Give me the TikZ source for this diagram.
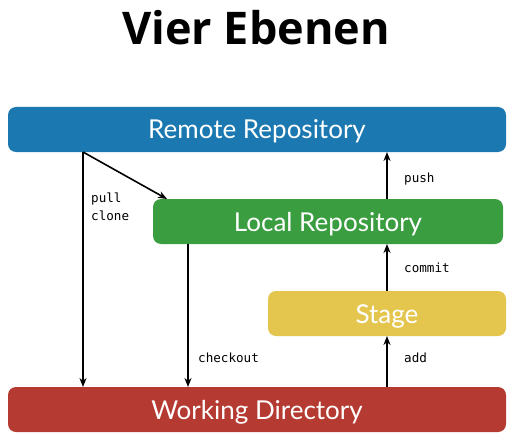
\documentclass[tikz,border=0pt]{standalone}
\usepackage{fontspec}
\setmainfont{Lato}
\newfontfamily\titlefont{Open Sans}
\newfontfamily\monofont{DejaVu Sans Mono}
\usetikzlibrary{arrows.meta}
\definecolor{remoteblue}{RGB}{27,120,176}
\definecolor{localgreen}{RGB}{58,157,64}
\definecolor{stageyellow}{RGB}{228,198,78}
\definecolor{workred}{RGB}{181,58,49}
\tikzset{
  levelbox/.style={draw=none, text=white, font=\fontsize{26}{26}\selectfont, inner sep=0pt, anchor=base},
  flow/.style={-{Stealth[length=9pt,width=7pt]}, line width=1.6pt},
  cmd/.style={font=\monofont\fontsize{12.6}{18}\selectfont, anchor=base west, inner sep=0pt, align=left}
}
\begin{document}
\begin{tikzpicture}[x=1pt,y=-1pt]
\useasboundingbox (0,0) rectangle (516,441);
\node[font=\titlefont\bfseries\fontsize{45}{45}\selectfont, inner sep=0pt, anchor=base] (title) at (256,45) {Vier Ebenen};
\path[fill=remoteblue, rounded corners=8pt] (8,107) rectangle (506,152);
\node[levelbox] (remote) at (257,139) {Remote Repository};
\path[fill=localgreen, rounded corners=8pt] (153,199) rectangle (503,244);
\node[levelbox] (local) at (328,231) {Local Repository};
\path[fill=stageyellow, rounded corners=8pt] (268,291) rectangle (506,336);
\node[levelbox] (stage) at (387,323) {Stage};
\path[fill=workred, rounded corners=8pt] (8,387) rectangle (506,432);
\node[levelbox] (work) at (257,419) {Working Directory};
% connectors
\coordinate (rb) at (83,152);
\coordinate (wpull) at (83,387);
\coordinate (lclone) at (167,199);
\coordinate (lco) at (188,244);
\coordinate (wco) at (188,387);
\coordinate (ltop) at (387,199);
\coordinate (rbot) at (387,152);
\coordinate (lbot) at (387,244);
\coordinate (stop) at (387,291);
\coordinate (sbot) at (387,336);
\coordinate (wtop) at (387,387);
\draw[flow] (rb) -- (wpull);
\draw[flow] (rb) -- (lclone);
\draw[flow] (lco) -- (wco);
\draw[flow] (ltop) -- (rbot);
\draw[flow] (stop) -- (lbot);
\draw[flow] (wtop) -- (sbot);
\node[cmd] (pull) at (91,220) {pull\\clone};
\node[cmd] (push) at (404,182) {push};
\node[cmd] (commit) at (404,272) {commit};
\node[cmd] (checkout) at (198,362) {checkout};
\node[cmd] (add) at (404,362) {add};
\end{tikzpicture}
\end{document}
